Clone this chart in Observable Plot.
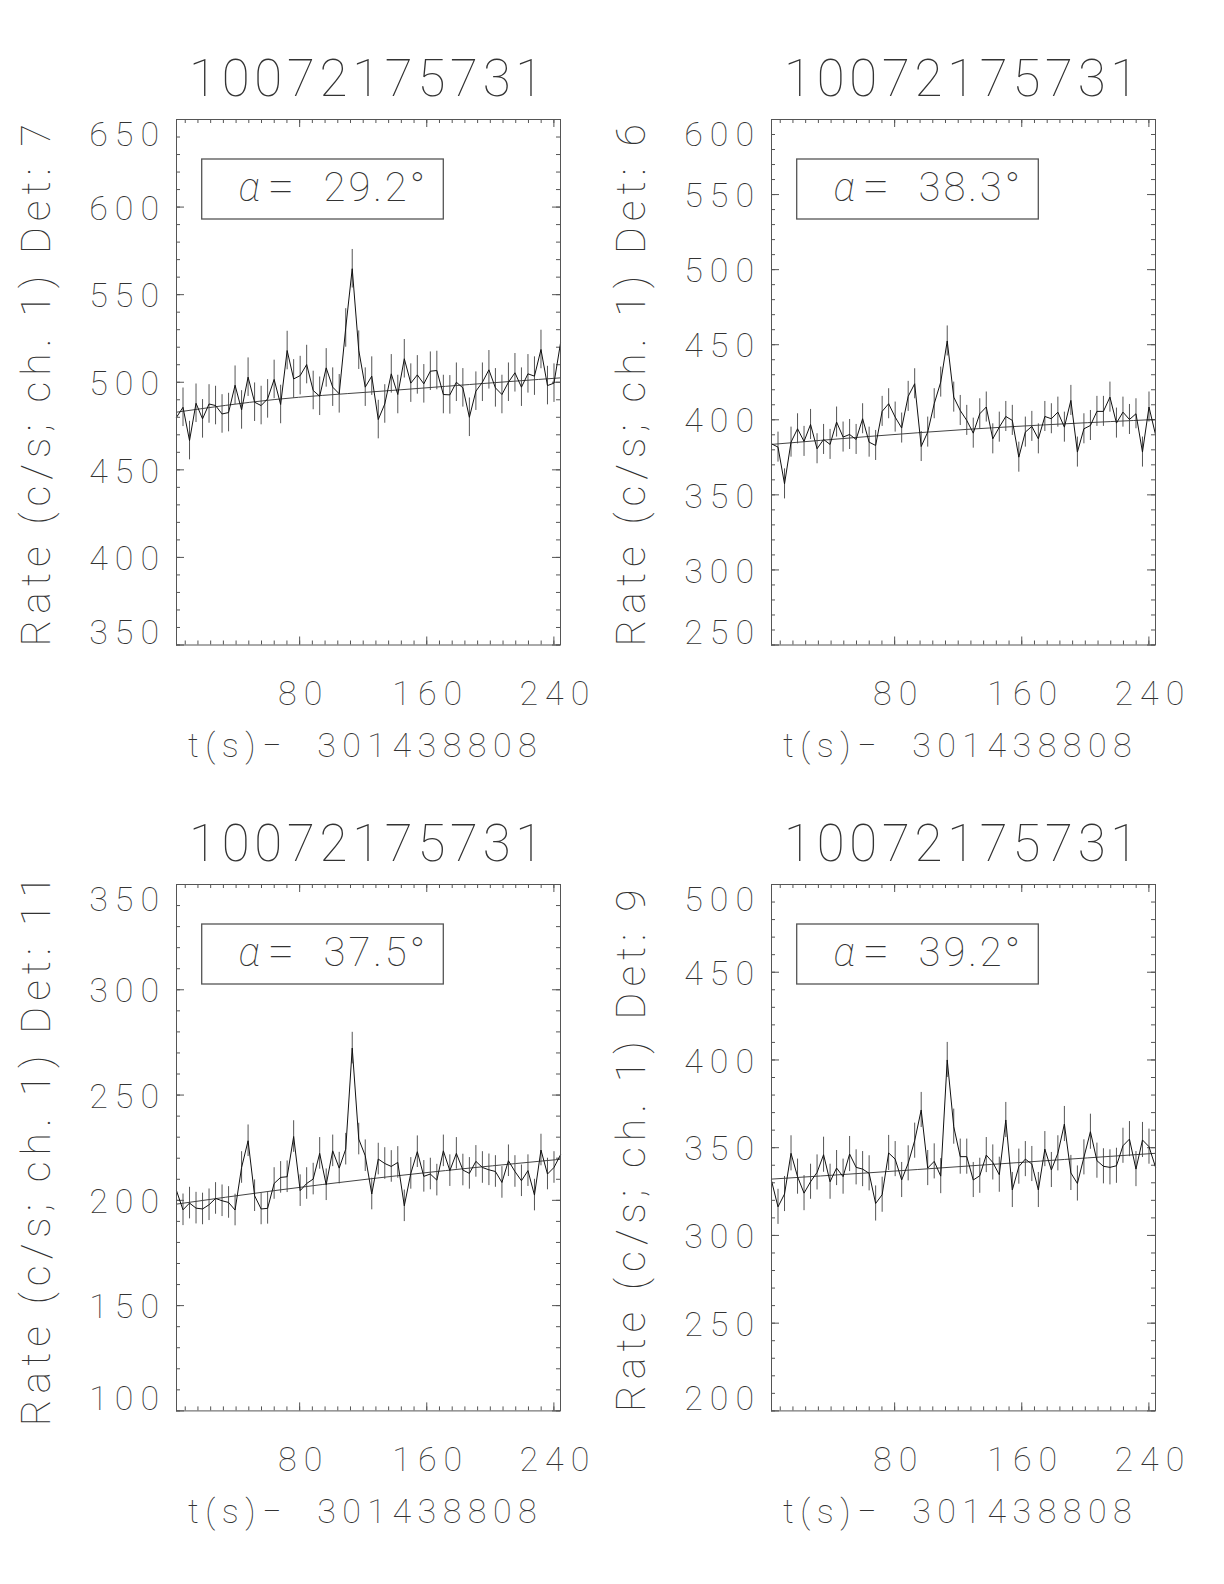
<!DOCTYPE html>
<html><head><meta charset="utf-8">
<script src="https://cdn.jsdelivr.net/npm/d3@7"></script>
<script src="https://cdn.jsdelivr.net/npm/@observablehq/plot@0.6"></script>
<style>
html,body{margin:0;padding:0;background:#fff;}
#page{position:relative;width:1224px;height:1584px;overflow:hidden;}
#page svg{position:absolute;}
</style></head><body><div id="page"></div>
<script>
// ---------------- data ----------------
const burstId = "10072175731";
const timeOffset = "301438808";
const binStart = 2.5;      // s, start of first 4.096 s bin (relative to offset)
const binWidth = 4.096;
const detectors = [7, 6, 11, 9];
const alphaDeg = ["29.2", "38.3", "37.5", "39.2"];
const xTickLabels = [80, 160, 240];

const yDomainDet7 = [350, 650];
const yDomainDet6 = [250, 600];
const yDomainDet11 = [100, 350];
const yDomainDet9 = [200, 500];
const yTicksDet7 = [350, 400, 450, 500, 550, 600, 650];
const yTicksDet6 = [250, 300, 350, 400, 450, 500, 550, 600];
const yTicksDet11 = [100, 150, 200, 250, 300, 350];
const yTicksDet9 = [200, 250, 300, 350, 400, 450, 500];

// count rates (c/s, ch. 1), one value per 4.096 s bin
const ratesDet7 = [480.0, 485.7, 466.7, 488.0, 479.1, 487.6, 486.7, 481.9, 482.7, 498.3,
  484.2, 502.9, 488.6, 486.7, 490.5, 501.6, 487.3, 518.1, 501.9, 503.8,
  510.1, 495.3, 492.0, 508.2, 497.2, 493.4, 531.0, 564.8, 518.3, 497.2,
  503.5, 478.7, 487.6, 504.8, 493.0, 513.4, 499.5, 504.2, 499.1, 506.3,
  506.7, 493.0, 492.8, 500.0, 496.8, 480.0, 494.9, 500.0, 507.1, 496.8,
  493.0, 500.0, 505.4, 497.2, 504.8, 503.5, 518.7, 498.1, 499.5, 522.3];
const ratesDet6 = [384.0, 381.8, 357.3, 385.1, 394.0, 385.6, 396.9, 380.7, 386.9, 383.6,
  398.5, 388.5, 390.2, 386.9, 400.7, 385.1, 382.9, 405.6, 410.7, 401.8,
  394.5, 415.6, 424.0, 382.2, 391.8, 410.7, 425.1, 452.5, 415.1, 406.2,
  399.6, 391.1, 404.0, 408.5, 387.3, 395.1, 402.2, 399.6, 375.1, 391.8,
  395.6, 387.3, 402.2, 400.7, 405.1, 395.1, 412.9, 378.5, 394.0, 396.2,
  405.6, 405.6, 415.1, 397.8, 405.1, 400.2, 404.0, 378.5, 408.5, 390.2];
const ratesDet11 = [204.6, 195.5, 198.7, 196.3, 195.9, 197.9, 200.9, 199.8, 199.0, 195.4,
  215.6, 228.3, 202.2, 195.9, 196.2, 208.0, 210.9, 211.2, 230.3, 204.6,
  208.0, 210.1, 222.3, 207.4, 223.5, 215.3, 224.3, 272.3, 229.1, 221.2,
  203.0, 219.6, 217.5, 216.1, 218.0, 197.4, 212.8, 223.1, 211.4, 212.5,
  209.6, 223.5, 214.1, 222.3, 214.4, 212.8, 218.5, 215.6, 214.5, 213.7,
  208.5, 218.8, 213.7, 209.3, 214.1, 202.5, 223.9, 212.5, 215.6, 221.6];
const ratesDet9 = [331.2, 316.3, 323.6, 346.8, 333.5, 324.1, 330.6, 335.9, 346.0, 330.6,
  338.4, 333.5, 346.4, 338.8, 337.8, 335.4, 318.2, 323.2, 347.0, 343.5,
  331.6, 341.1, 354.0, 371.5, 338.4, 342.2, 333.8, 400.0, 362.0, 344.9,
  344.9, 331.6, 334.0, 345.8, 341.6, 334.6, 365.8, 325.9, 339.2, 343.5,
  340.7, 325.9, 349.2, 337.3, 346.8, 363.5, 335.6, 329.6, 344.5, 359.1,
  342.6, 339.4, 338.8, 339.7, 351.1, 354.9, 337.8, 354.4, 350.6, 339.0];

// 1-sigma error bar half-length per detector (c/s)
const errors = [11, 10, 7.5, 10];

// background fit read at bins 0, 15, 30, 45, 59
const fitBins = [0, 15, 30, 45, 59];
const fitDet7 = [482.9, 490.1, 494.5, 498.7, 502.5];
const fitDet6 = [383.6, 388.9, 393.6, 397.3, 400.2];
const fitDet11 = [198.2, 204.6, 210.3, 215.3, 219.5];
const fitDet9 = [332.1, 335.7, 339.5, 343.3, 346.8];

// ---------------- drawing ----------------
const FONT = "Roboto, 'DejaVu Sans', sans-serif";
const INK = "#333";
const W = 612, H = 792;

const panels = [
  {det: detectors[0], alpha: alphaDeg[0], rates: ratesDet7, err: errors[0], fit: fitDet7, yDomain: yDomainDet7, yTicks: yTicksDet7, left: 0,   top: 0,   mL: 176, mR: 52, mT: 119, mB: 147.5},
  {det: detectors[1], alpha: alphaDeg[1], rates: ratesDet6, err: errors[1], fit: fitDet6, yDomain: yDomainDet6, yTicks: yTicksDet6, left: 612, top: 0,   mL: 159, mR: 69, mT: 119, mB: 147.5},
  {det: detectors[2], alpha: alphaDeg[2], rates: ratesDet11, err: errors[2], fit: fitDet11, yDomain: yDomainDet11, yTicks: yTicksDet11, left: 0,   top: 792, mL: 176, mR: 52, mT: 92,  mB: 173.6},
  {det: detectors[3], alpha: alphaDeg[3], rates: ratesDet9, err: errors[3], fit: fitDet9, yDomain: yDomainDet9, yTicks: yTicksDet9, left: 612, top: 792, mL: 159, mR: 69, mT: 92,  mB: 173.6}
];

function boxMark(x0, x1, y0, y1) {
  return (index, scales, values, dim) => {
    const r = document.createElementNS("http://www.w3.org/2000/svg", "rect");
    r.setAttribute("x", dim.marginLeft + x0);
    r.setAttribute("y", dim.marginTop + y0);
    r.setAttribute("width", x1 - x0);
    r.setAttribute("height", y1 - y0);
    r.setAttribute("fill", "none");
    r.setAttribute("stroke", "#555");
    r.setAttribute("stroke-width", 1.3);
    return r;
  };
}

// letter spacing for text marks, in mark order
const textSpacing = [0, 0, 3, 4.7, 7, 7, 7, 7, 6.5, 6];

const page = document.getElementById("page");

for (const p of panels) {
  const times = p.rates.map((_, i) => binStart + binWidth * i);
  const data = p.rates.map((v, i) => ({t: times[i], v}));
  const fitData = fitBins.map((b, k) => ({t: times[b], v: p.fit[k]}));
  const fw = W - p.mL - p.mR, fh = H - p.mT - p.mB;
  const xMinor = d3.range(8, 241, 8);
  const yMinor = d3.range(p.yDomain[0], p.yDomain[1] + 1, 10);
  const yMid = p.yTicks.slice(1, -1);
  const yTop = [p.yTicks[p.yTicks.length - 1]];
  const yBot = [p.yTicks[0]];
  const tickStyle = {stroke: "#555", strokeWidth: 1};
  const txt = {fill: INK, fontFamily: FONT, fontWeight: 100, lineAnchor: "middle"};

  const svg = Plot.plot({
    width: W, height: H,
    marginLeft: p.mL, marginRight: p.mR, marginTop: p.mT, marginBottom: p.mB,
    x: {domain: [times[0], times[times.length - 1]], axis: null},
    y: {domain: p.yDomain, axis: null},
    style: {fontFamily: FONT, background: "transparent", overflow: "visible"},
    marks: [
      // inward ticks on all four sides
      Plot.tickX(xMinor, {x: d => d, insetTop: fh - 4, ...tickStyle}),
      Plot.tickX(xMinor, {x: d => d, insetBottom: fh - 4, ...tickStyle}),
      Plot.tickX(xTickLabels, {x: d => d, insetTop: fh - 8, ...tickStyle}),
      Plot.tickX(xTickLabels, {x: d => d, insetBottom: fh - 8, ...tickStyle}),
      Plot.tickY(yMinor, {y: d => d, insetRight: fw - 4, ...tickStyle}),
      Plot.tickY(yMinor, {y: d => d, insetLeft: fw - 4, ...tickStyle}),
      Plot.tickY(p.yTicks, {y: d => d, insetRight: fw - 8, ...tickStyle}),
      Plot.tickY(p.yTicks, {y: d => d, insetLeft: fw - 8, ...tickStyle}),
      // error bars
      Plot.ruleX(data, {x: "t", y1: d => d.v - p.err, y2: d => d.v + p.err, stroke: "#555", strokeWidth: 1}),
      // background fit
      Plot.line(fitData, {x: "t", y: "v", curve: "natural", stroke: "#444", strokeWidth: 1}),
      // light curve
      Plot.line(data, {x: "t", y: "v", stroke: "#111", strokeWidth: 1}),
      Plot.frame({stroke: "#555", strokeWidth: 1}),
      // label box
      boxMark(25.7, 267.3, 40, 100),
      Plot.text(["α"], {frameAnchor: "top-left", dx: 62, dy: 68.2, textAnchor: "start", fontSize: 40, fontStyle: "italic", ...txt}),
      Plot.text(["="], {frameAnchor: "top-left", dx: 91, dy: 68.2, textAnchor: "start", fontSize: 48, ...txt}),
      Plot.text([p.alpha + "°"], {frameAnchor: "top-left", dx: 147, dy: 68.2, textAnchor: "start", fontSize: 40, ...txt}),
      // title
      Plot.text([burstId], {frameAnchor: "top", textAnchor: "middle", dx: 0, dy: -40, fontSize: 51, ...txt}),
      // y tick labels
      Plot.text(yMid, {y: d => d, text: d => String(d), frameAnchor: "left", textAnchor: "end", dx: -10.5, dy: 1.8, fontSize: 34, ...txt}),
      Plot.text(yTop, {y: d => d, text: d => String(d), frameAnchor: "left", textAnchor: "end", dx: -10.5, dy: 15.5, fontSize: 34, ...txt}),
      Plot.text(yBot, {y: d => d, text: d => String(d), frameAnchor: "left", textAnchor: "end", dx: -10.5, dy: -12, fontSize: 34, ...txt}),
      // x tick labels
      Plot.text(xTickLabels, {x: d => d, text: d => String(d), frameAnchor: "bottom", textAnchor: "middle", dx: 4, dy: 49, fontSize: 34, ...txt}),
      // axis titles
      Plot.text(["t(s)−  " + timeOffset], {frameAnchor: "bottom", textAnchor: "middle", dx: -3, dy: 101, fontSize: 34, ...txt}),
      Plot.text(["Rate (c/s; ch. 1) Det: " + p.det], {frameAnchor: "left", textAnchor: "middle", dx: -140, dy: 0, rotate: -90, fontSize: 41, ...txt})
    ]
  });
  svg.querySelectorAll('g[aria-label="text"]').forEach((g, k) => {
    if (textSpacing[k]) g.setAttribute("letter-spacing", textSpacing[k] + "px");
  });
  svg.style.left = p.left + "px";
  svg.style.top = p.top + "px";
  page.appendChild(svg);
}
</script></body></html>
